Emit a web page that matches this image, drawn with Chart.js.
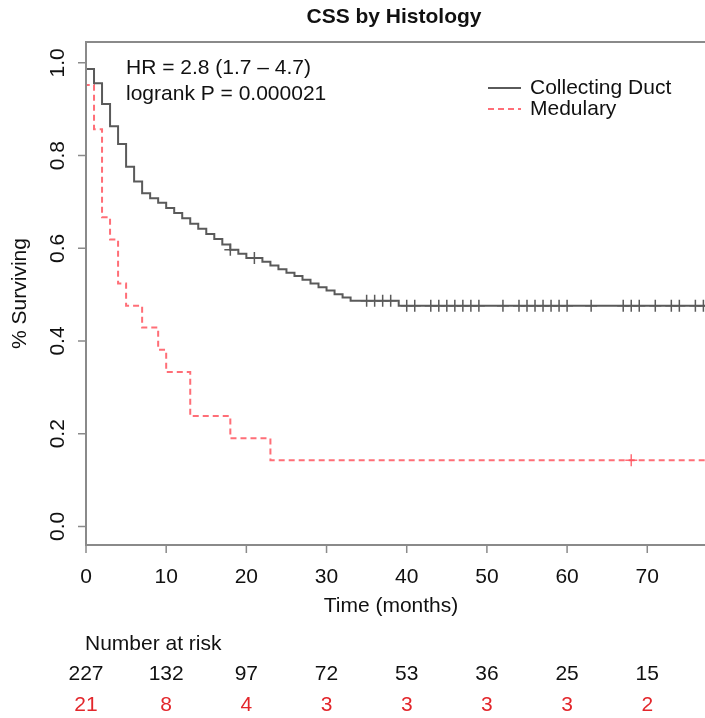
<!DOCTYPE html>
<html>
<head>
<meta charset="utf-8">
<script src="https://cdn.jsdelivr.net/npm/chart.js@4"></script>
<style>
  html, body { margin: 0; padding: 0; background: #fff; }
  #km { display: block; }
</style>
</head>
<body>
<canvas id="km" width="705" height="718"></canvas>
<script>
// Collecting Duct curve (months, survival after the step)
const cdTimes = [0, 1, 2, 3, 4, 5, 6, 7, 8, 9, 10, 11, 12, 13, 14, 15, 16, 17, 18, 19, 20, 22, 23, 24, 25, 26, 27, 28, 29, 30, 31, 32, 33, 39];
const cdSurv = [0.987, 0.956, 0.911, 0.863, 0.825, 0.776, 0.744, 0.719, 0.708, 0.698, 0.687, 0.676, 0.665, 0.653, 0.642, 0.631, 0.620, 0.608, 0.597, 0.588, 0.579, 0.571, 0.563, 0.555, 0.547, 0.540, 0.532, 0.524, 0.516, 0.509, 0.501, 0.494, 0.487, 0.476];
const cdCensor = [18, 21, 35, 36, 37, 38, 40, 41, 43, 44, 45, 46, 47, 48, 49, 52, 54, 55, 56, 57, 58, 59, 60, 63, 67, 68, 69, 71, 73, 74, 76, 77];

// Medulary curve
const medTimes = [0, 1, 2, 3, 4, 5, 7, 9, 10, 13, 18, 23];
const medSurv = [0.952, 0.857, 0.667, 0.619, 0.524, 0.476, 0.429, 0.381, 0.333, 0.238, 0.190, 0.143];
const medCensor = [68];

const xTicks = [0, 10, 20, 30, 40, 50, 60, 70];
const yTicks = [0.0, 0.2, 0.4, 0.6, 0.8, 1.0];

const riskTimes = [0, 10, 20, 30, 40, 50, 60, 70];
const riskCD = [227, 132, 97, 72, 53, 36, 25, 15];
const riskMed = [21, 8, 4, 3, 3, 3, 3, 2];

const xMax = 77.2;

const grey = '#5a5a5a';
const pink = 'rgba(255, 85, 95, 0.85)';
const red = '#e3262b';
const font = '"Liberation Sans", Arial, sans-serif';

function stepPoints(times, surv) {
    const pts = [{ x: 0, y: 1 }];
    times.forEach((t, i) => pts.push({ x: t, y: surv[i] }));
    pts.push({ x: xMax, y: surv[surv.length - 1] });
    return pts;
}

function survAt(times, surv, t) {
    let s = 1;
    times.forEach((tt, i) => { if (tt <= t) s = surv[i]; });
    return s;
}

function censorPoints(censor, times, surv) {
    return censor.map(t => ({ x: t, y: survAt(times, surv, t) }));
}

const axesPlugin = {
    id: 'axesPlugin',
    afterDraw(chart) {
        const c = chart.ctx;
        const a = chart.chartArea;
        const xs = chart.scales.x;
        const ys = chart.scales.y;
        c.save();

        // box (right side is cut off)
        c.strokeStyle = '#8a8a8a';
        c.lineWidth = 2;
        c.beginPath();
        c.moveTo(a.right + 2, a.top);
        c.lineTo(a.left, a.top);
        c.lineTo(a.left, a.bottom);
        c.lineTo(a.right + 2, a.bottom);
        c.stroke();

        // ticks
        c.lineWidth = 1.5;
        c.beginPath();
        xTicks.forEach(v => {
            const px = xs.getPixelForValue(v);
            c.moveTo(px, a.bottom);
            c.lineTo(px, a.bottom + 8);
        });
        yTicks.forEach(v => {
            const py = ys.getPixelForValue(v);
            c.moveTo(a.left, py);
            c.lineTo(a.left - 8, py);
        });
        c.stroke();

        c.fillStyle = '#111';
        c.font = '21px ' + font;
        c.textAlign = 'center';
        c.textBaseline = 'middle';
        xTicks.forEach(v => {
            c.fillText(String(v), xs.getPixelForValue(v), 577);
        });
        yTicks.forEach(v => {
            c.save();
            c.translate(58, ys.getPixelForValue(v));
            c.rotate(-Math.PI / 2);
            c.fillText(v.toFixed(1), 0, 0);
            c.restore();
        });

        // axis titles
        c.fillText('Time (months)', 391, 606);
        c.save();
        c.translate(20, (a.top + a.bottom) / 2);
        c.rotate(-Math.PI / 2);
        c.fillText('% Surviving', 0, 0);
        c.restore();

        // title
        c.font = 'bold 21px ' + font;
        c.fillText('CSS by Histology', 394, 17);

        // stats text
        c.font = '21px ' + font;
        c.textAlign = 'left';
        c.fillText('HR = 2.8 (1.7 \u2013 4.7)', 126, 68);
        c.fillText('logrank P = 0.000021', 126, 94);

        // legend
        c.lineWidth = 2;
        c.strokeStyle = grey;
        c.beginPath();
        c.moveTo(488, 88);
        c.lineTo(521, 88);
        c.stroke();
        c.strokeStyle = pink;
        c.setLineDash([6, 4]);
        c.beginPath();
        c.moveTo(488, 109);
        c.lineTo(521, 109);
        c.stroke();
        c.setLineDash([]);
        c.fillText('Collecting Duct', 530, 88);
        c.fillText('Medulary', 530, 109);

        // number at risk
        c.fillText('Number at risk', 85, 644);
        c.textAlign = 'center';
        riskTimes.forEach((t, i) => {
            const px = xs.getPixelForValue(t);
            c.fillStyle = '#111';
            c.fillText(String(riskCD[i]), px, 674);
            c.fillStyle = red;
            c.fillText(String(riskMed[i]), px, 705);
        });

        c.restore();
    }
};

new Chart(document.getElementById('km').getContext('2d'), {
    type: 'line',
    data: {
        datasets: [
            {
                label: 'Collecting Duct',
                data: stepPoints(cdTimes, cdSurv),
                stepped: true,
                borderColor: grey,
                borderWidth: 2,
                pointRadius: 0,
                fill: false
            },
            {
                label: 'Medulary',
                data: stepPoints(medTimes, medSurv),
                stepped: true,
                borderColor: pink,
                borderWidth: 2,
                borderDash: [6, 4],
                pointRadius: 0,
                fill: false
            },
            {
                label: 'cd censor',
                data: censorPoints(cdCensor, cdTimes, cdSurv),
                showLine: false,
                pointStyle: 'cross',
                pointRadius: 6,
                borderColor: grey,
                pointBorderWidth: 1.5
            },
            {
                label: 'med censor',
                data: censorPoints(medCensor, medTimes, medSurv),
                showLine: false,
                pointStyle: 'cross',
                pointRadius: 6,
                borderColor: pink,
                pointBorderWidth: 1.5
            }
        ]
    },
    options: {
        responsive: false,
        animation: false,
        layout: { autoPadding: false, padding: { left: 86, top: 42, right: 0, bottom: 173 } },
        scales: {
            x: { type: 'linear', min: 0, max: xMax, display: false },
            y: { type: 'linear', min: -0.04, max: 1.045, display: false }
        },
        plugins: {
            legend: { display: false },
            tooltip: { enabled: false }
        }
    },
    plugins: [axesPlugin]
});
</script>
</body>
</html>
